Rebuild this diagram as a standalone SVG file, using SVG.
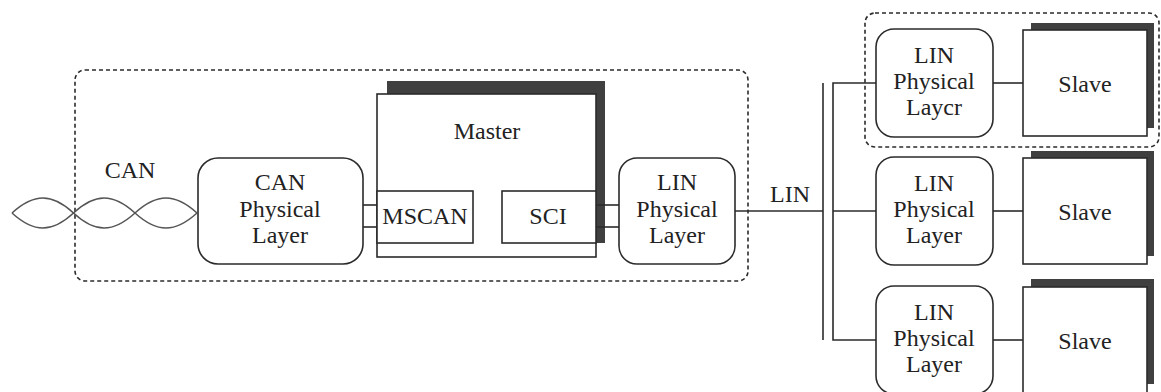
<svg xmlns="http://www.w3.org/2000/svg" width="1161" height="392" viewBox="0 0 1161 392">
<style>
.box{fill:#fff;stroke:#2b2b2b;stroke-width:1.6}
.shadow{fill:#404040;stroke:none}
.dash{fill:none;stroke:#2b2b2b;stroke-width:1.6;stroke-dasharray:4 3}
.wire{fill:none;stroke:#2b2b2b;stroke-width:1.6}
.twist{fill:none;stroke:#555;stroke-width:1.5}
text{font-family:"Liberation Serif","Times New Roman","DejaVu Serif",serif;font-size:24px;fill:#222;text-anchor:middle}
</style>
<rect width="1161" height="392" fill="#fff"/>
<g id="groups">
<rect class="dash" x="75" y="70" width="673" height="211" rx="10"/>
<rect class="dash" x="865" y="13" width="294" height="134" rx="10"/>
</g>
<g id="can-bus">
<path class="twist" d="M12,213 C34,193 52,193 73.5,213 C95,233 113,233 135,213 C157,193 175,193 197,213"/>
<path class="twist" d="M12,213 C34,233 52,233 73.5,213 C95,193 113,193 135,213 C157,233 175,233 197,213"/>
<text x="130" y="178">CAN</text>
</g>
<g id="connectors">
<line class="wire" x1="363" y1="205" x2="377" y2="205"/>
<line class="wire" x1="363" y1="227" x2="377" y2="227"/>
<line class="wire" x1="735" y1="211" x2="823" y2="211"/>
<line class="wire" x1="823" y1="83" x2="823" y2="340"/>
<polyline class="wire" points="876,83 833,83 833,340 876,340"/>
<line class="wire" x1="833" y1="211" x2="876" y2="211"/>
<line class="wire" x1="993" y1="83" x2="1023" y2="83"/>
<line class="wire" x1="993" y1="211" x2="1023" y2="211"/>
<line class="wire" x1="993" y1="340" x2="1023" y2="340"/>
<text x="790" y="202">LIN</text>
</g>
<g id="can-phy">
<rect class="box" x="198" y="158" width="165" height="106" rx="20"/>
<text x="280" y="190">CAN</text>
<text x="280" y="217">Physical</text>
<text x="280" y="243">Layer</text>
</g>
<g id="master">
<rect class="shadow" x="387" y="81" width="218" height="162"/>
<rect class="box" x="377" y="94" width="219" height="163"/>
<text x="487" y="139">Master</text>
</g>
<g id="mscan">
<rect class="box" x="377" y="191" width="96" height="52"/>
<text x="425" y="224">MSCAN</text>
</g>
<g id="sci">
<rect class="box" x="502" y="191" width="94" height="52"/>
<text x="548" y="224">SCI</text>
<line class="wire" x1="596" y1="205" x2="619" y2="205"/>
<line class="wire" x1="596" y1="227" x2="619" y2="227"/>
</g>
<g id="lin-phy-master">
<rect class="box" x="619" y="158" width="116" height="106" rx="18"/>
<text x="677" y="190">LIN</text>
<text x="677" y="217">Physical</text>
<text x="677" y="243">Layer</text>
</g>
<g id="lin-phy-1">
<rect class="box" x="876" y="29" width="117" height="108" rx="18"/>
<text x="934" y="63">LIN</text>
<text x="934" y="89">Physical</text>
<text x="934" y="115">Laycr</text>
</g>
<g id="slave-1">
<rect class="shadow" x="1031" y="23" width="123" height="105"/>
<rect class="box" x="1023" y="30" width="124" height="106"/>
<text x="1085" y="92">Slave</text>
</g>
<g id="lin-phy-2">
<rect class="box" x="876" y="157" width="117" height="108" rx="18"/>
<text x="934" y="191">LIN</text>
<text x="934" y="217">Physical</text>
<text x="934" y="243">Layer</text>
</g>
<g id="slave-2">
<rect class="shadow" x="1031" y="151" width="123" height="105"/>
<rect class="box" x="1023" y="158" width="124" height="106"/>
<text x="1085" y="220">Slave</text>
</g>
<g id="lin-phy-3">
<rect class="box" x="876" y="286" width="117" height="108" rx="18"/>
<text x="934" y="320">LIN</text>
<text x="934" y="346">Physical</text>
<text x="934" y="372">Layer</text>
</g>
<g id="slave-3">
<rect class="shadow" x="1031" y="279" width="123" height="105"/>
<rect class="box" x="1023" y="287" width="124" height="106"/>
<text x="1085" y="349">Slave</text>
</g>
</svg>
